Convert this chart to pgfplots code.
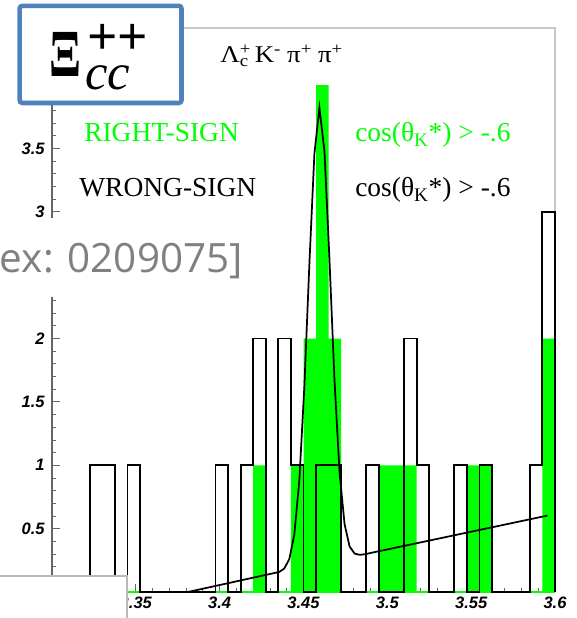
\documentclass[border=0pt]{standalone}
\usepackage{pgfplots}
\pgfplotsset{compat=1.18}
\usepackage{fontspec}
\setmainfont{Liberation Serif}
\setsansfont{Liberation Sans}
\newfontfamily\opensans{Open Sans}
\definecolor{rootgreen}{RGB}{0,255,0}
\definecolor{boxblue}{RGB}{79,129,189}
\definecolor{hepgray}{RGB}{128,128,128}
\begin{document}
\begin{tikzpicture}
\begin{axis}[
  name=ax, at={(39pt,19.5pt)}, anchor=south west,
  scale only axis, width=377.25pt, height=423pt,
  xmin=3.3, xmax=3.6, ymin=0, ymax=4.45,
  axis line style={draw=none},
  tick pos=left,
  xtick={3.35,3.4,3.45,3.5,3.55,3.6},
  ytick={0,0.5,1,1.5,2,2.5,3,3.5,4},
  minor x tick num=4, minor y tick num=4,
  tick align=inside,
  major tick length=6pt, minor tick length=3pt,
  tick style={draw=gray!80!black, line width=0.6pt},
  /pgf/number format/assume math mode=true,
  tick label style={font=\sffamily\bfseries\itshape\fontsize{12.4}{14}\selectfont},
  yticklabel style={xshift=-2pt},
  clip=false,
]
\draw[gray!45, line width=0.8pt] (rel axis cs:0,1) -- (rel axis cs:1,1) -- (rel axis cs:1,0);
\draw[gray!80!black, line width=0.8pt] (rel axis cs:0,1) -- (rel axis cs:0,0) -- (rel axis cs:1,0);
% RIGHT-SIGN (filled)
\addplot[draw=none, fill=rootgreen, const plot mark left] coordinates {
(3.3,0) (3.42,1) (3.4275,0) (3.4425,1) (3.45,2) (3.4575,4) (3.465,2) (3.4725,0)
(3.495,1) (3.5175,0) (3.5475,1) (3.5625,0) (3.5925,2) (3.6,2)} \closedcycle;
\addplot[rootgreen, line width=1.2pt] coordinates {(3.3,0) (3.6,0)};
% WRONG-SIGN (outline)
\addplot[black, line width=1.4pt, const plot mark left] coordinates {
(3.3,0) (3.3225,1) (3.3375,0) (3.345,1) (3.3525,0) (3.3975,1) (3.405,0) (3.4125,1)
(3.42,2) (3.4275,0) (3.435,2) (3.4425,1) (3.45,0) (3.4575,1) (3.4725,0) (3.4875,1)
(3.495,0) (3.51,2) (3.5175,1) (3.525,0) (3.54,1) (3.5475,0) (3.555,1) (3.5625,0)
(3.585,1) (3.5925,3) (3.6,3) (3.6,0)};
% fit
\addplot[black, line width=1.3pt] coordinates {
(3.381,0) (3.4355,0.158) (3.4385,0.185) (3.4415,0.258) (3.4445,0.451) (3.4475,0.877)
(3.4505,1.617) (3.4535,2.586) (3.4565,3.459) (3.4595,3.821) (3.4625,3.476) (3.4655,2.620)
(3.4685,1.667) (3.4715,0.944) (3.4745,0.535) (3.4775,0.359) (3.4805,0.303) (3.4835,0.293)
(3.4865,0.298) (3.5955,0.603)};
\end{axis}
\begin{scope}[x=0.75pt, y=0.75pt, shift={(ax.south west)}, shift={(-52,-26)}]
\pgfresetboundingbox
\path[use as bounding box] (0,0) rectangle (577,618);
% texts in plot
\node[anchor=base west, inner sep=0] at (220,555) {\scalebox{1.12}[1]{\fontsize{18}{20}\selectfont Λ\rlap{\textsuperscript{+}}\textsubscript{c}\hspace{4pt}K\textsuperscript{-}\hspace{4pt}π\textsuperscript{+}\hspace{4pt}π\textsuperscript{+}}};
\node[anchor=base west, inner sep=0, text=rootgreen] at (84,476) {\fontsize{20.6}{24}\selectfont RIGHT-SIGN};
\node[anchor=base west, inner sep=0, text=rootgreen] at (355,476) {\fontsize{20.6}{24}\selectfont cos(θ\textsubscript{K}*) > -.6};
\node[anchor=base west, inner sep=0] at (79,421) {\fontsize{20.6}{24}\selectfont WRONG-SIGN};
\node[anchor=base west, inner sep=0] at (355,421) {\fontsize{20.6}{24}\selectfont cos(θ\textsubscript{K}*) > -.6};
% hep-ex overlay
\fill[white] (-10,400) rectangle (250,321);
\node[anchor=base east, inner sep=0, text=hepgray] at (243,345) {\opensans\fontsize{30.3}{32}\selectfont [hep-ex: 0209075]};
% bottom-left box
\filldraw[fill=white, draw=gray!55, line width=0.8pt] (-5,42) rectangle (127,-12);
% blue box
\filldraw[fill=white, draw=boxblue, line width=3.4pt, rounded corners=2pt] (19.7,612.2) rectangle (181.5,515);
\node[anchor=base west, inner sep=0] at (49,541) {\scalebox{0.7}[1]{\fontsize{50.5}{51}\selectfont\bfseries Ξ}};
\node[anchor=base west, inner sep=0] at (85,528) {\fontsize{38}{40}\selectfont\itshape cc};
\node[anchor=base west, inner sep=0] at (87,563) {\fontsize{40}{42}\selectfont\bfseries ++};
\end{scope}
\end{tikzpicture}
\end{document}
